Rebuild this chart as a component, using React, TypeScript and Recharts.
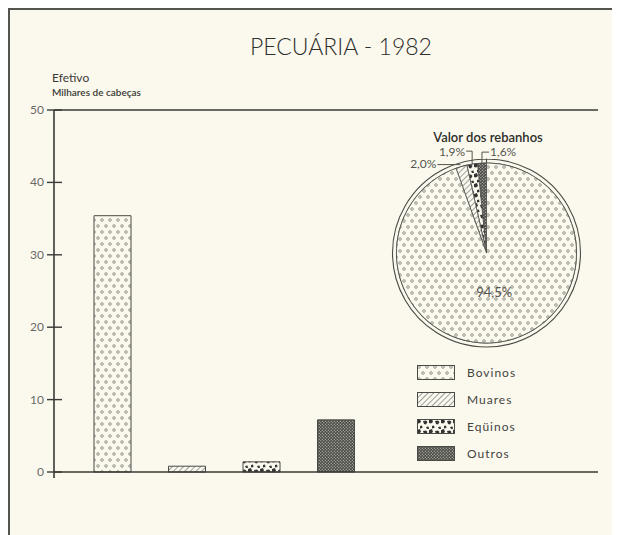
import { Bar, BarChart, Cell, Pie, PieChart, ReferenceLine, XAxis, YAxis } from 'recharts'

const categories = ['Bovinos', 'Muares', 'Eqüinos', 'Outros']
const efetivo = [35.4, 0.8, 1.4, 7.2]
const valorPct = [94.5, 2.0, 1.9, 1.6]
const valorLabels = ['94,5%', '2,0%', '1,9%', '1,6%']
const yTicks = [0, 10, 20, 30, 40, 50]
const patternIds = ['pat-bov', 'pat-mua', 'pat-equ', 'pat-out']

const BG = '#fbf9ee'
const INK = '#3a3a36'
const FONT = 'Lato, "Open Sans", sans-serif'

const barData = categories.map((c, i) => ({ name: c, value: efetivo[i], fill: `url(#${patternIds[i]})` }))
// pie runs counter-clockwise from 12 o'clock: Outros, Eqüinos, Muares, then Bovinos
const pieData = categories
  .map((c, i) => ({ name: c, value: valorPct[i], label: valorLabels[i], fill: `url(#${patternIds[i]})` }))
  .reverse()
const ringData = [{ name: 'ring', value: 1 }]

function Patterns() {
  return (
    <svg width={0} height={0} style={{ position: 'absolute' }}>
      <defs>
        <pattern id="pat-bov" patternUnits="userSpaceOnUse" width={8} height={12}>
          <rect width={8} height={12} fill={BG} />
          <circle cx={2} cy={2} r={1.3} fill="none" stroke="#8a8a83" strokeWidth={0.9} />
          <circle cx={6} cy={8} r={1.3} fill="none" stroke="#8a8a83" strokeWidth={0.9} />
        </pattern>
        <pattern id="pat-mua" patternUnits="userSpaceOnUse" width={4} height={4} patternTransform="rotate(45)">
          <rect width={4} height={4} fill={BG} />
          <line x1={0} y1={0} x2={0} y2={4} stroke="#555" strokeWidth={1.1} />
        </pattern>
        <pattern id="pat-equ" patternUnits="userSpaceOnUse" width={12} height={10}>
          <rect width={12} height={10} fill={BG} />
          <path d="M0 1 L3 0 L4 3 L2 4.5 L0 4 Z" fill="#333" />
          <path d="M6 2 L9 1.5 L10.5 3 L9 5.5 L7 5 Z" fill="#333" />
          <path d="M3 7 L5 6.5 L5.5 9 L3 9.5 Z" fill="#333" />
          <path d="M9 8 L11.5 7.5 L12 10 L10 10 Z" fill="#333" />
        </pattern>
        <pattern id="pat-out" patternUnits="userSpaceOnUse" width={3} height={3}>
          <rect width={3} height={3} fill="#4a4a46" />
          <rect x={0.3} y={0.3} width={1} height={1} fill="#d8d6cc" />
          <rect x={1.8} y={1.8} width={1} height={1} fill="#d8d6cc" />
        </pattern>
      </defs>
    </svg>
  )
}

function YTick({ x, y, payload }: any) {
  return (
    <g>
      <line x1={x - 7} x2={x + 8} y1={y} y2={y} stroke={INK} strokeWidth={1.4} />
      {payload.value === 0 && <line x1={x} x2={x} y1={y} y2={y + 6} stroke={INK} strokeWidth={1.6} />}
      <text x={x - 10} y={y} dy={4} textAnchor="end" fill="#6a6a66" fontSize={12} fontFamily={FONT}>
        {payload.value}
      </text>
    </g>
  )
}

const RAD = Math.PI / 180

function PieLabel({ cx, cy, midAngle, outerRadius, index }: any) {
  const d = pieData[index]
  const style = { fill: '#55554f', fontSize: 12, fontFamily: FONT }
  if (d.name === 'Bovinos') {
    const r = outerRadius * 0.5
    return (
      <text x={cx + r * Math.cos(-midAngle * RAD)} y={cy + r * Math.sin(-midAngle * RAD)} textAnchor="middle" {...style} fontSize={13}>
        {d.label}
      </text>
    )
  }
  const ex = cx + outerRadius * Math.cos(-midAngle * RAD)
  const ey = cy + outerRadius * Math.sin(-midAngle * RAD)
  if (d.name === 'Outros') {
    return (
      <g>
        <path d={`M${ex},${ey} L${ex},${ey - 11} L${ex + 7},${ey - 11}`} stroke="#55554f" fill="none" />
        <text x={ex + 8} y={ey - 7} {...style}>{d.label}</text>
      </g>
    )
  }
  if (d.name === 'Eqüinos') {
    return (
      <g>
        <path d={`M${ex},${ey} L${ex},${ey - 13} L${ex - 6},${ey - 13}`} stroke="#55554f" fill="none" />
        <text x={ex - 7} y={ey - 8} textAnchor="end" {...style}>{d.label}</text>
      </g>
    )
  }
  return (
    <g>
      <path d={`M${ex - 1},${ey - 2} L${ex - 24},${ey - 2}`} stroke="#55554f" fill="none" />
      <text x={ex - 25} y={ey + 1} textAnchor="end" {...style}>{d.label}</text>
    </g>
  )
}

export default function App() {
  return (
    <div style={{ position: 'relative', width: 604, height: 527, background: BG, fontFamily: FONT, color: INK, overflow: 'hidden' }}>
      <Patterns />
      <div style={{ position: 'absolute', left: 0, top: 0, width: 602, height: 540, borderTop: `2px solid #55554f`, borderLeft: `2px solid #55554f`, borderRight: `2px solid #55554f` }} />
      <div style={{ position: 'absolute', left: 233, width: 200, top: 24, textAlign: 'center', fontSize: 23, fontWeight: 300, color: '#2e2e2a' }}>
        PECUÁRIA - 1982
      </div>
      <div style={{ position: 'absolute', left: 44, top: 62, fontSize: 12 }}>Efetivo</div>
      <div style={{ position: 'absolute', left: 44, top: 78, fontSize: 10, fontWeight: 600 }}>Milhares de cabeças</div>

      <BarChart
        width={600}
        height={520}
        data={barData}
        margin={{ top: 102, right: 10, bottom: 56, left: 0 }}
        style={{ position: 'absolute', left: 0, top: 0 }}
      >
        <XAxis dataKey="name" type="category" hide padding={{ left: 21, right: 225 }} />
        <YAxis
          domain={[0, 50]}
          ticks={yTicks}
          width={46}
          tickSize={0}
          tickMargin={0}
          tickLine={false}
          axisLine={{ stroke: INK, strokeWidth: 1.6 }}
          tick={<YTick />}
          interval={0}
        />
        <YAxis yAxisId="frame" orientation="right" domain={[0, 50]} width={0} tick={false} tickLine={false} axisLine={{ stroke: INK, strokeWidth: 1.4 }} />
        <ReferenceLine y={50} stroke={INK} strokeWidth={1.4} />
        <ReferenceLine y={0} stroke={INK} strokeWidth={1.6} />
        <Bar dataKey="value" barSize={37} stroke="#4a4a46" strokeWidth={1} isAnimationActive={false}>
          {barData.map((b, i) => <Cell key={i} fill={b.fill} />)}
        </Bar>
      </BarChart>

      <div style={{ position: 'absolute', left: 400, width: 160, top: 121, textAlign: 'center', fontSize: 13, fontWeight: 600, color: '#2e2e2a' }}>
        Valor dos rebanhos
      </div>
      <PieChart width={220} height={240} margin={{ top: 0, right: 0, bottom: 0, left: 0 }} style={{ position: 'absolute', left: 370, top: 115 }}>
        <Pie
          data={ringData}
          dataKey="value"
          cx={108.5}
          cy={130}
          innerRadius={90}
          outerRadius={94}
          startAngle={90}
          endAngle={450}
          fill={BG}
          stroke="#4a4a46"
          strokeWidth={1.1}
          isAnimationActive={false}
        />
        <Pie
          data={pieData}
          dataKey="value"
          cx={108.5}
          cy={130}
          outerRadius={90}
          startAngle={90}
          endAngle={450}
          stroke="#4a4a46"
          strokeWidth={0.8}
          label={PieLabel}
          labelLine={false}
          isAnimationActive={false}
        >
          {pieData.map((d, i) => <Cell key={i} fill={d.fill} />)}
        </Pie>
      </PieChart>

      <div style={{ position: 'absolute', left: 409, top: 357, display: 'flex', flexDirection: 'column', gap: 12 }}>
        {categories.map((c, i) => (
          <div key={c} style={{ display: 'flex', alignItems: 'center', height: 15 }}>
            <svg width={38} height={15} style={{ display: 'block' }}>
              <rect x={0.5} y={0.5} width={37} height={14} fill={`url(#${patternIds[i]})`} stroke="#4a4a46" />
            </svg>
            <span style={{ marginLeft: 12, fontSize: 12, letterSpacing: 1, color: '#44443f' }}>{c}</span>
          </div>
        ))}
      </div>
    </div>
  )
}
